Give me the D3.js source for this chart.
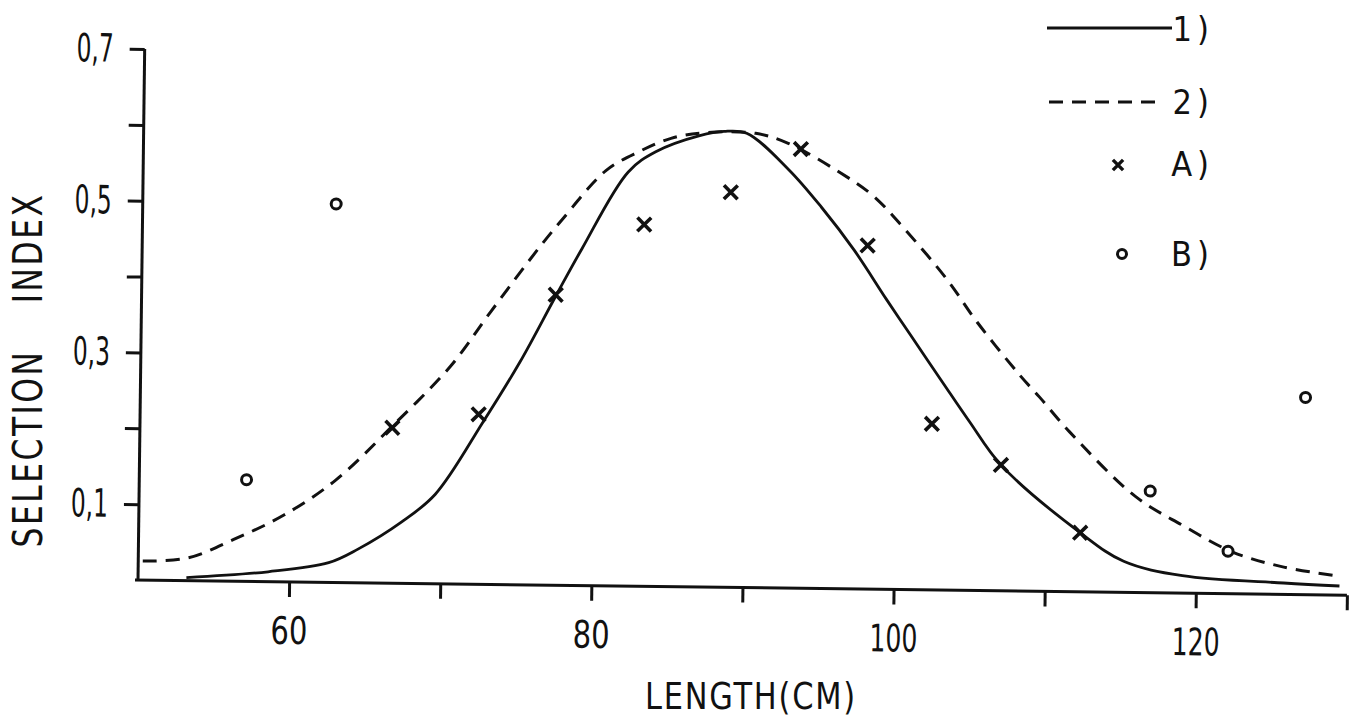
<!DOCTYPE html>
<html>
<head>
<meta charset="utf-8">
<script src="https://cdn.jsdelivr.net/npm/d3@7"></script>
<style>
  html, body { margin: 0; padding: 0; background: #fff; }
  svg { display: block; }
  text { font-family: "DejaVu Sans Condensed", "DejaVu Sans", sans-serif; fill: #111; }
</style>
</head>
<body>
<svg id="chart" width="1360" height="721"></svg>
<script>
// ---------- data ----------
const xTicks = [60, 70, 80, 90, 100, 110, 120, 130];
const xTickLabels = ["60", "", "80", "", "100", "", "120", ""];
const yTicks = [0.1, 0.2, 0.3, 0.4, 0.5, 0.6, 0.7];
const yTickLabels = ["0,1", "", "0,3", "", "0,5", "", "0,7"];

// curve 1) (solid)
const solidX = [53.2, 58.6, 62.6, 64.5, 67.4, 69.6, 72.7, 75.1, 77.4, 79.1, 82.1, 83.9, 86.8, 88.4, 89.9, 92.7, 94.9, 97.1, 99.3, 100.9, 103.1, 104.9, 107.0, 112.3, 115.2, 119.1, 125.8, 129.5];
const solidY = [0.004, 0.013, 0.026, 0.044, 0.081, 0.118, 0.214, 0.294, 0.381, 0.444, 0.546, 0.573, 0.595, 0.601, 0.599, 0.552, 0.503, 0.447, 0.382, 0.336, 0.273, 0.222, 0.166, 0.078, 0.041, 0.023, 0.015, 0.012];

// curve 2) (dashed)
const dashedX = [50.3, 53.3, 56.3, 59.6, 63.0, 66.7, 70.5, 73.1, 76.2, 77.8, 80.6, 82.8, 84.9, 87.2, 90.5, 92.7, 96.0, 98.3, 100.4, 103.3, 105.3, 108.2, 109.5, 111.5, 115.9, 119.1, 122.4, 125.8, 129.5];
const dashedY = [0.025, 0.030, 0.055, 0.088, 0.135, 0.207, 0.287, 0.359, 0.443, 0.483, 0.547, 0.573, 0.591, 0.599, 0.599, 0.586, 0.550, 0.519, 0.476, 0.409, 0.354, 0.284, 0.256, 0.211, 0.127, 0.089, 0.055, 0.036, 0.025];

// points A) (crosses)
const aX = [66.7, 72.4, 77.4, 83.2, 88.9, 93.5, 98.0, 102.4, 107.0, 112.3];
const aY = [0.205, 0.224, 0.383, 0.477, 0.521, 0.579, 0.453, 0.219, 0.166, 0.078];

// points B) (circles)
const bX = [57.1, 62.8, 116.9, 122.1, 127.1];
const bY = [0.134, 0.499, 0.134, 0.056, 0.260];

const legendLabels = ["1)", "2)", "A)", "B)"];
const xTitle = "LENGTH(CM)";
const yTitle = "SELECTION INDEX";

// ---------- drawing ----------
const ink = "#111";
const svg = d3.select("#chart");

const x = d3.scaleLinear().domain([50, 130]).range([138, 1347]);
const y = d3.scaleLinear().domain([0, 0.7]).range([580, 49]);

function squeeze(sel, target) {
  sel.each(function (d, i) {
    const t = typeof target === "function" ? target.call(this, d, i) : target;
    if (!t) return;
    d3.select(this).attr("textLength", t).attr("lengthAdjust", "spacingAndGlyphs");
  });
}

// the scanned figure is slightly rotated
const g = svg.append("g").attr("transform", "rotate(0.72,138,580)");

// x axis
const xAxis = d3.axisBottom(x)
  .tickValues(xTicks)
  .tickFormat((d, i) => xTickLabels[i])
  .tickSize(15).tickSizeOuter(0).tickPadding(20);
const gx = g.append("g").attr("transform", `translate(0,${y(0)})`).call(xAxis);
gx.select(".domain").attr("d", `M${x(50) - 3},0H${x(130)}`).attr("stroke", ink).attr("stroke-width", 3);
gx.selectAll(".tick line").attr("stroke", ink).attr("stroke-width", 3);
gx.selectAll(".tick text").attr("font-size", 38).attr("fill", ink)
  .style("font-family", '"DejaVu Sans Condensed","DejaVu Sans",sans-serif');
squeeze(gx.selectAll(".tick text"), function () {
  const s = d3.select(this).text();
  return s.length === 0 ? 0 : (s.length === 2 ? 37 : 48);
});

// y axis
const yAxis = d3.axisLeft(y)
  .tickValues(yTicks)
  .tickFormat((d, i) => yTickLabels[i])
  .tickSize(15).tickSizeOuter(0).tickPadding(16);
const gy = g.append("g").attr("transform", `translate(${x(50)},0)`).call(yAxis);
gy.select(".domain").attr("d", `M0,${y(0) + 1}V${y(0.7)}`).attr("stroke", ink).attr("stroke-width", 3);
gy.selectAll(".tick line").attr("stroke", ink).attr("stroke-width", 3);
gy.selectAll(".tick text").attr("font-size", 39).attr("fill", ink)
  .style("font-family", '"DejaVu Sans Condensed","DejaVu Sans",sans-serif');
squeeze(gy.selectAll(".tick text"), function () {
  return d3.select(this).text().length ? 37 : 0;
});

// curves
const line = d3.line().x(d => x(d[0])).y(d => y(d[1])).curve(d3.curveCatmullRom.alpha(0.5));
const solidData = solidX.map((v, i) => [v, solidY[i]]);
const dashedData = dashedX.map((v, i) => [v, dashedY[i]]);

g.append("path").datum(solidData).attr("d", line)
  .attr("fill", "none").attr("stroke", ink).attr("stroke-width", 2.8).attr("stroke-linejoin", "round");
g.append("path").datum(dashedData).attr("d", line)
  .attr("fill", "none").attr("stroke", ink).attr("stroke-width", 3)
  .attr("stroke-dasharray", "14,9");

// markers
const timesType = d3.symbolTimes || d3.symbolX || {
  draw(ctx, size) { const r = Math.sqrt(size) * 0.6; ctx.moveTo(-r, -r); ctx.lineTo(r, r); ctx.moveTo(-r, r); ctx.lineTo(r, -r); }
};
const timesPath = d3.symbol().type(timesType).size(125)();

g.selectAll(".ptA").data(aX.map((v, i) => [v, aY[i]])).join("path")
  .attr("class", "ptA")
  .attr("d", timesPath)
  .attr("transform", d => `translate(${x(d[0])},${y(d[1])})`)
  .attr("fill", "none").attr("stroke", ink).attr("stroke-width", 3.6);

g.selectAll(".ptB").data(bX.map((v, i) => [v, bY[i]])).join("circle")
  .attr("class", "ptB")
  .attr("cx", d => x(d[0])).attr("cy", d => y(d[1])).attr("r", 5)
  .attr("fill", "#fff").attr("stroke", ink).attr("stroke-width", 3);

// axis titles
const xt = svg.append("text").text(xTitle)
  .attr("x", 751).attr("y", 709).attr("text-anchor", "middle")
  .attr("font-size", 38).attr("letter-spacing", 2);
squeeze(xt, 212);

const yt = svg.append("text").text(yTitle)
  .attr("transform", "translate(42,370) rotate(-90)")
  .attr("text-anchor", "middle")
  .attr("font-size", 41).attr("letter-spacing", 3).attr("word-spacing", 40);
squeeze(yt, 355);

// legend
const lg = svg.append("g");
lg.append("line").attr("x1", 1047).attr("x2", 1172).attr("y1", 28).attr("y2", 28)
  .attr("stroke", ink).attr("stroke-width", 3);
lg.append("line").attr("x1", 1049).attr("x2", 1164).attr("y1", 102).attr("y2", 102)
  .attr("stroke", ink).attr("stroke-width", 3).attr("stroke-dasharray", "14,9");
lg.append("path").attr("d", d3.symbol().type(timesType).size(70)())
  .attr("transform", "translate(1118,165)")
  .attr("fill", "none").attr("stroke", ink).attr("stroke-width", 3.4);
lg.append("circle").attr("cx", 1122).attr("cy", 254).attr("r", 4.5)
  .attr("fill", "#fff").attr("stroke", ink).attr("stroke-width", 3);
const legY = [41, 114, 176, 266];
lg.selectAll(".legtxt").data(legendLabels).join("text")
  .attr("class", "legtxt")
  .attr("x", 1214).attr("y", (d, i) => legY[i])
  .attr("text-anchor", "end")
  .attr("font-size", 34).attr("letter-spacing", 5)
  .text(d => d);
</script>
</body>
</html>
